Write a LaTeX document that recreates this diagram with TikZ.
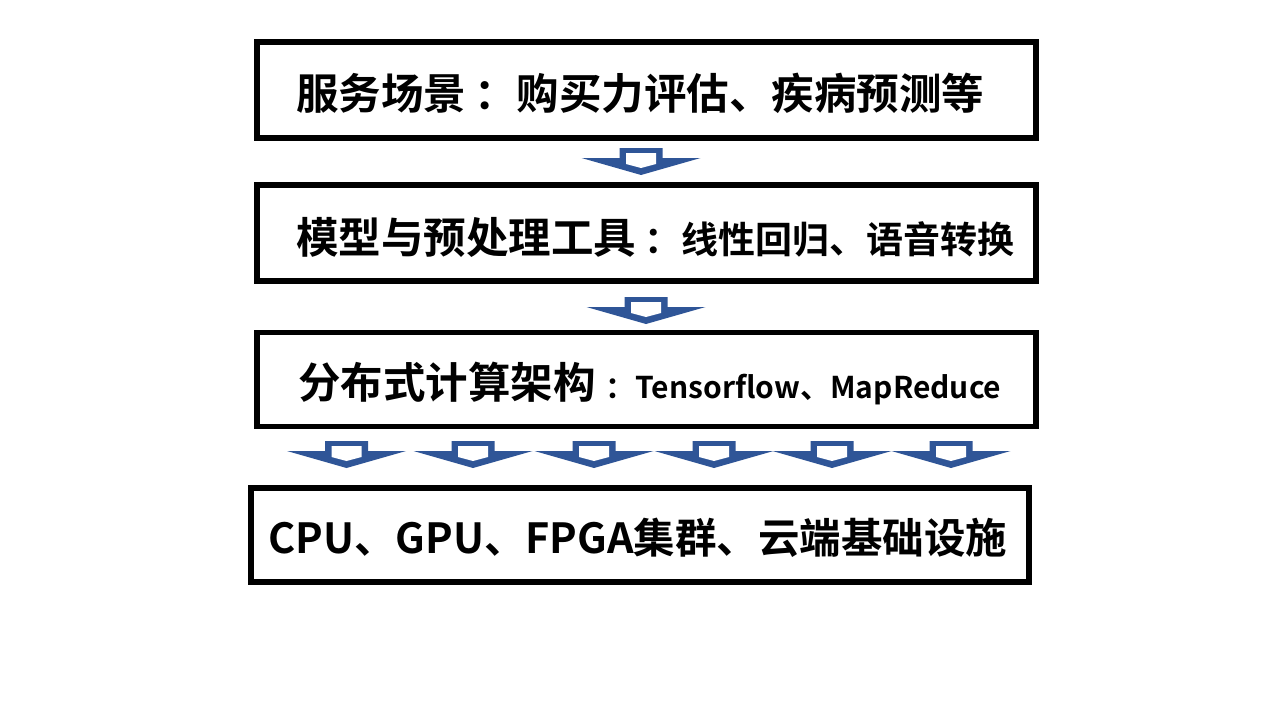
\documentclass[tikz,border=0pt]{standalone}
\usepackage{fontspec}
\newfontfamily\cjkfont{Noto Sans CJK SC}[BoldFont={Noto Sans CJK SC Bold}]
\usetikzlibrary{positioning}
\definecolor{arrowblue}{RGB}{47,85,151}

\tikzset{
    layerbox/.style={draw=black, line width=5.5pt, inner sep=0pt, minimum width=779pt, minimum height=96pt},
    bigtext/.style={anchor=west, inner sep=0pt, font=\cjkfont\bfseries\fontsize{42.5}{50}\selectfont},
    flowarrow/.pic={
        \fill[arrowblue] (-21.5,0) -- (21.5,0) -- (21.5,10) -- (59.5,10) -- (0,27) -- (-59.5,10) -- (-21.5,10) -- cycle;
        \fill[white] (-15,5) -- (15,5) -- (15,16) -- (0,20) -- (-15,16) -- cycle;
    }
}

\begin{document}
\begin{tikzpicture}[x=1pt, y=-1pt]
    \useasboundingbox (0,0) rectangle (1280,720);
    % Layers
    \node[layerbox] (scene) at (646.5,90) {};
    \node[layerbox] (model) at (646.5,233) {};
    \node[layerbox, minimum height=94pt] (dist) at (646.5,379.5) {};
    \node[layerbox, minimum height=94pt, minimum width=778pt] (infra) at (640,535) {};
    % Texts
    \node[bigtext] (scenetext) at (296,93) {服务场景\hspace{8pt}：购买力评估、疾病预测等};
    \node[bigtext] (modeltext) at (296,237) {模型与预处理工具\hspace{8pt}{\fontsize{37}{44}\selectfont ：线性回归、语音转换}};
    \node[bigtext] (disttext) at (298,383) {分布式计算架构\hspace{10pt}{\fontsize{30}{36}\selectfont ：Tensorflow、MapReduce}};
    \node[bigtext, font=\cjkfont\bfseries\fontsize{41.5}{50}\selectfont] (infratext) at (268,538) {CPU、GPU、FPGA集群、云端基础设施};
    % Arrows between layers
    \pic at (641,148) {flowarrow};
    \pic at (646,297) {flowarrow};
    \foreach \cx in {346.5,473,594,714,832,951}
        \pic at (\cx,441) {flowarrow};
\end{tikzpicture}
\end{document}
